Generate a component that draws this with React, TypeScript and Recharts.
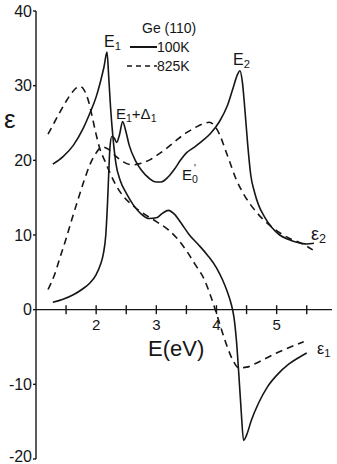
import React from "react";
import { ComposedChart, Line, XAxis, YAxis, ReferenceLine } from "recharts";

// Ge (110) dielectric function, photon energy in eV
// eps1 (real part) at 100 K
const eps1ColdEnergy = [
  1.28, 1.45, 1.62, 1.78, 1.9, 2.0, 2.07, 2.13, 2.18, 2.21, 2.24, 2.28, 2.33, 2.4, 2.5, 2.62, 2.75,
  2.88, 3.0, 3.1, 3.2, 3.3, 3.42, 3.55, 3.7, 3.85, 4.0, 4.1, 4.18, 4.24, 4.29, 4.33, 4.37, 4.41,
  4.45, 4.5, 4.58, 4.7, 4.85, 5.0, 5.2, 5.35, 5.5,
];
const eps1ColdValue = [
  19.5, 20.5, 22.0, 24.2, 26.4, 28.5, 30.5, 32.5, 34.5, 31.0, 27.0, 23.0, 19.5, 17.3, 15.6, 14.0,
  12.8, 12.2, 12.3, 12.9, 13.3, 12.8, 11.5, 10.0, 8.7, 7.3, 5.6, 4.0, 2.4, 0.9, -1.0, -4.0, -8.5,
  -13.5, -17.5, -16.8, -14.8, -12.5, -10.3, -8.8, -7.3, -6.5, -5.8,
];

// eps2 (imaginary part) at 100 K
const eps2ColdEnergy = [
  1.28, 1.45, 1.62, 1.78, 1.9, 2.0, 2.07, 2.12, 2.16, 2.19, 2.21, 2.23, 2.26, 2.3, 2.34, 2.39, 2.44,
  2.49, 2.55, 2.65, 2.75, 2.88, 3.0, 3.08, 3.2, 3.3, 3.4, 3.5, 3.62, 3.75, 3.9, 4.05, 4.18, 4.28,
  4.35, 4.39, 4.43, 4.47, 4.52, 4.57, 4.63, 4.7, 4.8, 4.92, 5.05, 5.2, 5.35, 5.5, 5.62,
];
const eps2ColdValue = [
  1.0, 1.4, 2.0, 2.8, 3.6, 4.7, 6.0, 7.5, 10.0, 14.5, 18.5, 21.8, 23.2, 23.0, 22.4, 23.5, 25.2,
  24.0, 22.0, 20.0, 18.7, 17.6, 17.1, 17.1, 17.8, 18.8, 20.0, 21.0, 21.7, 22.5, 23.6, 25.2, 27.3,
  29.8, 31.5, 32.0, 30.5, 27.0, 22.0, 18.0, 15.8, 14.0, 12.4, 11.0, 10.0, 9.4, 9.0, 8.8, 8.9,
];

// eps1 at 825 K
const eps1HotEnergy = [
  1.2, 1.3, 1.4, 1.5, 1.6, 1.67, 1.73, 1.8, 1.87, 1.93, 1.99, 2.06, 2.14, 2.22, 2.32, 2.45, 2.6,
  2.8, 3.0, 3.2, 3.35, 3.5, 3.65, 3.8, 3.9, 3.98, 4.08, 4.18, 4.28, 4.37, 4.5, 4.65, 4.8, 5.0, 5.2,
  5.45,
];
const eps1HotValue = [
  23.5, 25.0, 26.5, 27.9, 29.1, 29.7, 29.9, 29.4, 28.0, 26.0, 23.8, 21.6, 20.0, 18.5, 16.8, 15.2,
  14.0, 12.8, 11.8, 10.7, 9.5, 7.9, 6.0, 4.0, 1.9, 0.0, -2.6, -5.0, -6.9, -7.8, -7.7, -7.2, -6.6,
  -5.8, -5.1, -4.3,
];

// eps2 at 825 K
const eps2HotEnergy = [
  1.2, 1.3, 1.4, 1.5, 1.6, 1.7, 1.8, 1.9, 2.0, 2.1, 2.2, 2.32, 2.45, 2.6, 2.75, 2.9, 3.05, 3.2,
  3.35, 3.5, 3.65, 3.78, 3.88, 3.97, 4.05, 4.13, 4.22, 4.32, 4.45, 4.6, 4.75, 4.9, 5.05, 5.2, 5.35,
  5.5, 5.6,
];
const eps2HotValue = [
  2.7, 4.5, 7.0, 9.5, 12.2, 14.8, 17.3, 19.5, 21.0, 21.8, 21.5, 20.6, 19.8, 19.4, 19.6, 20.1, 20.9,
  21.8, 22.8, 23.7, 24.4, 24.9, 25.1, 24.6, 23.5, 21.8, 19.8, 17.6, 15.5, 13.7, 12.3, 11.2, 10.3,
  9.6, 9.1, 8.5, 8.0,
];

const yTicks = [-20, -10, 0, 10, 20, 30, 40];
const rightTicks = [-10, 10, 20, 30];
const xTickMarks = [1.5, 2, 2.5, 3, 3.5, 4, 4.5, 5, 5.5];
const xTickLabels = [2, 3, 4, 5];

const INK = "#161616";
const FONT = "'Liberation Sans', Arial, sans-serif";
const X_DOMAIN: [number, number] = [1, 5.92];
const Y_DOMAIN: [number, number] = [-20, 40];

const zip = (es: number[], vs: number[]) => es.map((e, i) => ({ e, v: vs[i] }));

const eps1Cold = zip(eps1ColdEnergy, eps1ColdValue);
const eps2Cold = zip(eps2ColdEnergy, eps2ColdValue);
const eps1Hot = zip(eps1HotEnergy, eps1HotValue);
const eps2Hot = zip(eps2HotEnergy, eps2HotValue);

const curve = {
  xAxisId: "e",
  yAxisId: "left",
  dataKey: "v",
  type: "monotone" as const,
  stroke: INK,
  strokeWidth: 1.6,
  dot: false,
  activeDot: false,
  isAnimationActive: false,
};

// left axis tick label; the lowest one is nudged up so it stays inside the frame
function EpsTick({ x, y, payload }: any) {
  const lift = payload.value === Y_DOMAIN[0] ? -3 : 0;
  return (
    <text x={x} y={y + lift} dy={5.5} textAnchor="end" fontSize={16} fill={INK} fontFamily={FONT}>
      {payload.value}
    </text>
  );
}

// symbol with subscript, e.g. E_1
function Sym({ x, y, s, sub, size = 15 }: { x: number; y: number; s: string; sub: string; size?: number }) {
  return (
    <text x={x} y={y} fontSize={size} fill={INK} fontFamily={FONT}>
      {s}
      <tspan fontSize={size * 0.7} dy={3}>
        {sub}
      </tspan>
    </text>
  );
}

function Annotations() {
  return (
    <svg
      width={337}
      height={464}
      style={{ position: "absolute", left: 0, top: 0, pointerEvents: "none" }}
    >
      <text x={4} y={128} fontSize={26} fill={INK} fontFamily={FONT}>
        ε
      </text>
      <text x={148} y={356} fontSize={22} fill={INK} fontFamily={FONT}>
        E(eV)
      </text>

      {/* legend */}
      <text x={142} y={33} fontSize={14} fill={INK} fontFamily={FONT}>
        Ge (110)
      </text>
      <line x1={130} y1={47} x2={157} y2={47} stroke={INK} strokeWidth={2} />
      <text x={157} y={52} fontSize={14} fill={INK} fontFamily={FONT}>
        100K
      </text>
      <line x1={127} y1={66} x2={157} y2={66} stroke={INK} strokeWidth={1.6} strokeDasharray="5 4" />
      <text x={157} y={71} fontSize={14} fill={INK} fontFamily={FONT}>
        825K
      </text>

      {/* critical points */}
      <Sym x={104} y={47} s="E" sub="1" size={16} />
      <text x={116} y={119} fontSize={15} fill={INK} fontFamily={FONT}>
        E
        <tspan fontSize={10.5} dy={3}>1</tspan>
        <tspan dy={-3}>+Δ</tspan>
        <tspan fontSize={10.5} dy={3}>1</tspan>
      </text>
      <Sym x={233} y={65} s="E" sub="2" size={16} />
      <text x={182} y={180} fontSize={15} fill={INK} fontFamily={FONT}>
        E
        <tspan fontSize={10.5} dy={3}>0</tspan>
      </text>
      <text x={194} y={172} fontSize={10} fill={INK} fontFamily={FONT}>
        '
      </text>
      <Sym x={311} y={240} s="ε" sub="2" size={18} />
      <Sym x={317} y={354} s="ε" sub="1" size={16} />
    </svg>
  );
}

export default function App() {
  return (
    <div
      style={{
        position: "absolute",
        left: 0,
        top: 0,
        width: 337,
        height: 464,
        background: "#fff",
        fontFamily: FONT,
      }}
    >
      <ComposedChart width={337} height={464} margin={{ top: 11, right: 0, bottom: 5, left: 0 }}>
        <XAxis
          xAxisId="e"
          dataKey="e"
          type="number"
          domain={X_DOMAIN}
          allowDataOverflow
          tick={false}
          tickLine={false}
          height={0}
          axisLine={{ stroke: INK, strokeWidth: 1.4 }}
        />
        <XAxis
          xAxisId="top"
          orientation="top"
          type="number"
          domain={X_DOMAIN}
          allowDataOverflow
          tick={false}
          tickLine={false}
          height={0}
          axisLine={{ stroke: INK, strokeWidth: 1.4 }}
        />
        <YAxis
          yAxisId="left"
          type="number"
          domain={Y_DOMAIN}
          ticks={yTicks}
          interval={0}
          width={36}
          tickSize={3}
          tickMargin={1}
          tick={<EpsTick />}
          tickLine={{ stroke: INK, strokeWidth: 1.4 }}
          axisLine={{ stroke: INK, strokeWidth: 1.4 }}
        />
        <YAxis
          yAxisId="right"
          orientation="right"
          type="number"
          domain={Y_DOMAIN}
          ticks={rightTicks}
          interval={0}
          width={5}
          tickSize={5}
          tick={false}
          axisLine={false}
          tickLine={{ stroke: INK, strokeWidth: 1.4 }}
        />

        {/* energy axis drawn through eps = 0 */}
        <ReferenceLine xAxisId="e" yAxisId="left" y={0} stroke={INK} strokeWidth={1.4} />
        {xTickMarks.map((t) => (
          <ReferenceLine
            key={t}
            xAxisId="e"
            yAxisId="left"
            segment={[
              { x: t, y: -0.6 },
              { x: t, y: 0.6 },
            ]}
            stroke={INK}
            strokeWidth={1.4}
            label={
              xTickLabels.includes(t)
                ? { value: String(t), position: "bottom", offset: 5, fill: INK, fontSize: 15 }
                : undefined
            }
          />
        ))}

        <Line {...curve} data={eps1Cold} name="eps1 100K" />
        <Line {...curve} data={eps2Cold} name="eps2 100K" />
        <Line {...curve} data={eps1Hot} name="eps1 825K" strokeDasharray="7 5" />
        <Line {...curve} data={eps2Hot} name="eps2 825K" strokeDasharray="7 5" />
      </ComposedChart>
      <Annotations />
    </div>
  );
}
